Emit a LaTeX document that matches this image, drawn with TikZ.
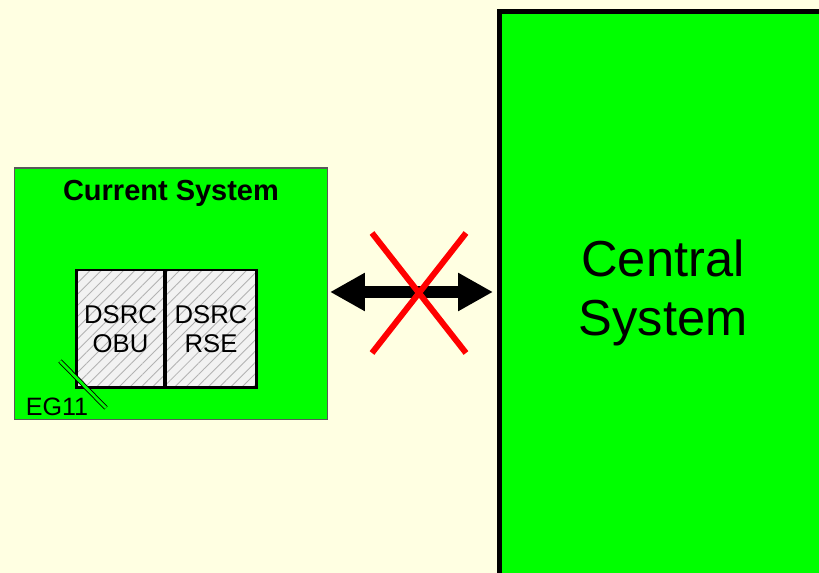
\documentclass[tikz,border=0pt]{standalone}
\usepackage{fontspec}
\setmainfont{Liberation Sans}
\usetikzlibrary{arrows.meta,patterns.meta}
\definecolor{bgyellow}{RGB}{255,255,226}
\definecolor{sysgreen}{RGB}{0,255,0}
\tikzset{sysbox/.style={draw=gray!70!black, line width=0.6pt, fill=sysgreen, inner sep=0pt, outer sep=0pt}}
\tikzset{unit/.style={draw, line width=1.7pt, preaction={fill=gray!10}, preaction={pattern={Lines[angle=45, distance=4.5pt, line width=0.5pt]}, pattern color=gray!60}, inner sep=0pt, outer sep=0pt, minimum width=1.8cm, minimum height=2.36cm, align=center, font=\fontsize{14.6}{16.5}\selectfont}}
\tikzset{link/.style={line width=6.5pt, {Triangle[length=0.7cm,width=0.72cm]}-{Triangle[length=0.7cm,width=0.72cm]}}}
\tikzset{cross/.style={draw=red, line width=3.4pt}}

\begin{document}
\begin{tikzpicture}[x=0.02cm, y=-0.02cm]
\useasboundingbox[fill=bgyellow] (0,0) rectangle (819,573);
\node[sysbox, minimum width=6.28cm, minimum height=5.04cm] (cur) at (171,294) {};
\node[font=\bfseries\fontsize{16.5}{18}\selectfont] (curtitle) at (171,193) {Current System};
\node[unit, minimum width=1.78cm] (obu) at (120.5,329) {DSRC\\OBU};
\node[unit, minimum width=1.84cm] (rse) at (211,329) {DSRC\\RSE};
\coordinate (egA) at (60,361);
\coordinate (egB) at (106,408);
\draw[double=sysgreen, double distance=1.6pt, line width=0.5pt] (egA) -- (egB);
\node[font=\fontsize{14.3}{16}\selectfont] (eg) at (57,407) {EG11};
\draw[line width=2.8pt, fill=sysgreen] (499.5,11.5) rectangle (860,620);
\node[align=center, font=\fontsize{28.8}{34}\selectfont] (central) at (663,293) {Central\\System};
\coordinate (tipL) at (330,292);
\coordinate (tipR) at (493,292);
\draw[link] (tipL) -- (tipR);
\coordinate (xa) at (372,233);
\coordinate (xb) at (466,353);
\coordinate (xc) at (466,233);
\coordinate (xd) at (372,353);
\draw[cross] (xa) -- (xb);
\draw[cross] (xc) -- (xd);
\end{tikzpicture}
\end{document}
